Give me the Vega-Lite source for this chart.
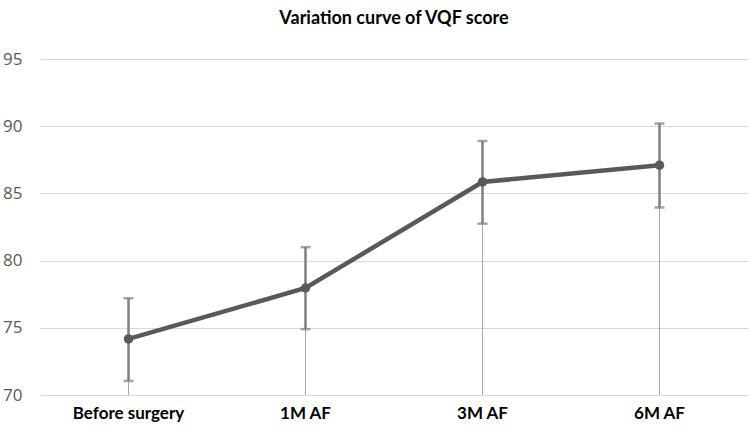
{
  "$schema": "https://vega.github.io/schema/vega-lite/v6.json",
  "autosize": {"type": "none"},
  "width": 708,
  "height": 336,
  "padding": {"left": 40, "top": 59, "right": 2, "bottom": 38},
  "background": "white",
  "title": {
    "text": "Variation curve of VQF score",
    "fontSize": 18,
    "fontWeight": "bold",
    "font": "Lato",
    "color": "#000000",
    "anchor": "middle",
    "offset": 22
  },
  "config": {"view": {"stroke": null}},
  "data": {
    "values": [
      {"stage": "Before surgery", "mean": 74.17, "lo": 71.05, "hi": 77.2},
      {"stage": "1M AF", "mean": 77.96, "lo": 74.9, "hi": 81.0},
      {"stage": "3M AF", "mean": 85.85, "lo": 82.75, "hi": 88.9},
      {"stage": "6M AF", "mean": 87.1, "lo": 83.95, "hi": 90.2}
    ]
  },
  "encoding": {
    "x": {
      "field": "stage",
      "type": "nominal",
      "sort": null,
      "scale": {"paddingInner": 0, "paddingOuter": 0},
      "axis": {
        "title": null,
        "labelAngle": 0,
        "domain": false,
        "ticks": false,
        "labelFontSize": 17,
        "labelFontWeight": "bold",
        "labelFont": "Lato",
        "labelColor": "#000000",
        "labelPadding": 10
      }
    }
  },
  "layer": [
    {
      "mark": {"type": "rule", "color": "#a6a6a6", "strokeWidth": 1},
      "encoding": {
        "y": {
          "field": "mean",
          "type": "quantitative",
          "scale": {"domain": [70, 95], "nice": false, "zero": false},
          "axis": {
            "title": null,
            "values": [70, 75, 80, 85, 90, 95],
            "domain": false,
            "ticks": false,
            "gridColor": "#d9d9d9",
            "gridWidth": 1,
            "labelColor": "#595959",
            "labelFontSize": 17,
            "labelFont": "Open Sans",
            "labelPadding": 18
          }
        },
        "y2": {"datum": 70}
      }
    },
    {
      "mark": {"type": "rule", "color": "#7f7f7f", "strokeWidth": 2.5},
      "encoding": {
        "y": {"field": "lo", "type": "quantitative"},
        "y2": {"field": "hi"}
      }
    },
    {
      "mark": {"type": "tick", "color": "#7f7f7f", "thickness": 2.5, "size": 10, "orient": "horizontal"},
      "encoding": {"y": {"field": "lo", "type": "quantitative"}}
    },
    {
      "mark": {"type": "tick", "color": "#7f7f7f", "thickness": 2.5, "size": 10, "orient": "horizontal"},
      "encoding": {"y": {"field": "hi", "type": "quantitative"}}
    },
    {
      "mark": {"type": "line", "color": "#595959", "strokeWidth": 4.5},
      "encoding": {"y": {"field": "mean", "type": "quantitative"}}
    },
    {
      "mark": {"type": "point", "filled": true, "color": "#595959", "size": 90, "opacity": 1},
      "encoding": {"y": {"field": "mean", "type": "quantitative"}}
    }
  ]
}
